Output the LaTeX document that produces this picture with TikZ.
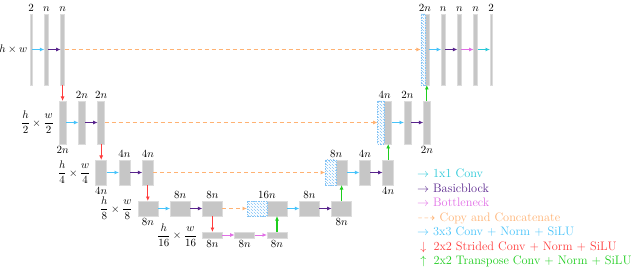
\documentclass[tikz,border=0pt]{standalone}
\usepackage{amsmath,amssymb}
\usepackage{xcolor}
\usepackage{tikz}
\usetikzlibrary{arrows.meta,positioning,patterns}

\definecolor{cone}{RGB}{40,200,215}
\definecolor{cbasic}{RGB}{88,36,140}
\definecolor{cneck}{RGB}{225,110,230}
\definecolor{ccopy}{RGB}{255,178,115}
\definecolor{cthree}{RGB}{70,195,250}
\definecolor{cdown}{RGB}{255,60,60}
\definecolor{cup}{RGB}{30,205,30}
\definecolor{barfill}{RGB}{198,198,198}
\definecolor{barline}{RGB}{220,220,220}
\definecolor{catblue}{RGB}{130,195,245}

\begin{document}
\begin{tikzpicture}[
  x=1pt, y=-1pt, >={Latex[length=4.5pt,width=4pt]},
  font=\fontsize{10.5}{12.5}\selectfont,
  bar/.style={draw=barline, fill=barfill, line width=0.6pt, inner sep=0pt, outer sep=0pt},
  cat/.style={draw=catblue, dash pattern=on 1.5pt off 1pt, line width=0.6pt,
              pattern=north west lines, pattern color=catblue, inner sep=0pt, outer sep=0pt},
  sz0/.style={minimum width=4pt, minimum height=71pt},
  sz1/.style={minimum width=7pt, minimum height=43pt},
  sz2/.style={minimum width=11pt, minimum height=25pt},
  sz3/.style={minimum width=20pt, minimum height=15pt},
  sz4/.style={minimum width=20pt, minimum height=6pt},
  dim/.style={inner sep=2.5pt},
  dimup/.style={label={[dim]above:$#1$}},
  dimdn/.style={label={[dim]below:$#1$}},
  scale lab/.style={inner sep=1pt},
  flow/.style={->, line width=1pt},
  upflow/.style={->, cup, line width=1.3pt},
  copy/.style={->, ccopy, line width=0.9pt, dash pattern=on 4pt off 3pt},
  key/.style={anchor=base west, inner sep=0pt, font=\fontsize{12.3}{14.4}\selectfont}]
  \useasboundingbox (0,0) rectangle (640,267);
  % encoder
  \node[bar, sz0, minimum width=2pt, dimup=2] (l0a) at (31,49.5) {};
  \node[bar, sz0, dimup=n, right=12.3pt of l0a] (l0b) {};
  \node[bar, sz0, dimup=n, right=12.3pt of l0b] (l0c) {};
  \node[scale lab, left=1.5pt of l0a] (s0) {$h\times w$};
  \node[bar, sz1, dimdn=2n, below=16pt of l0c] (l1a) {};
  \node[bar, sz1, dimup=2n, right=12.3pt of l1a] (l1b) {};
  \node[bar, sz1, dimup=2n, right=12.3pt of l1b] (l1c) {};
  \node[scale lab, left=4pt of l1a] (s1) {$\dfrac{h}{2}\times\dfrac{w}{2}$};
  \node[bar, sz2, dimdn=4n, below=16pt of l1c] (l2a) {};
  \node[bar, sz2, dimup=4n, right=12.3pt of l2a] (l2b) {};
  \node[bar, sz2, dimup=4n, right=12.3pt of l2b] (l2c) {};
  \node[scale lab, left=4pt of l2a] (s2) {$\dfrac{h}{4}\times\dfrac{w}{4}$};
  \node[bar, sz3, dimdn=8n, below=16pt of l2c] (l3a) {};
  \node[bar, sz3, dimup=8n, right=12.3pt of l3a] (l3b) {};
  \node[bar, sz3, dimup=8n, right=12.3pt of l3b] (l3c) {};
  \node[scale lab, left=4pt of l3a] (s3) {$\dfrac{h}{8}\times\dfrac{w}{8}$};
  % bottleneck
  \node[bar, sz4, dimdn=8n, below=16pt of l3c] (l4a) {};
  \node[bar, sz4, dimdn=8n, right=12.3pt of l4a] (l4b) {};
  \node[bar, sz4, dimdn=8n, right=12.3pt of l4b] (l4c) {};
  \node[scale lab, left=4pt of l4a] (s4) {$\dfrac{h}{16}\times\dfrac{w}{16}$};
  % decoder
  \node[bar, sz3, above=16pt of l4c] (r3s) {};
  \node[cat, sz3, left=0pt of r3s] (r3h) {};
  \node[dim, above=0pt of r3h.north east] (t3) {$16n$};
  \node[bar, sz3, dimup=8n, right=12.3pt of r3s] (r3b) {};
  \node[bar, sz3, dimdn=8n, right=12.3pt of r3b] (r3c) {};
  \node[bar, sz2, above=16pt of r3c] (r2s) {};
  \node[cat, sz2, left=0pt of r2s] (r2h) {};
  \node[dim, above=0pt of r2h.north east] (t2) {$8n$};
  \node[bar, sz2, dimup=4n, right=12.3pt of r2s] (r2b) {};
  \node[bar, sz2, dimdn=4n, right=12.3pt of r2b] (r2c) {};
  \node[bar, sz1, above=16pt of r2c] (r1s) {};
  \node[cat, sz1, left=0pt of r1s] (r1h) {};
  \node[dim, above=0pt of r1h.north east] (t1) {$4n$};
  \node[bar, sz1, dimup=2n, right=12.3pt of r1s] (r1b) {};
  \node[bar, sz1, dimdn=2n, right=12.3pt of r1b] (r1c) {};
  \node[bar, sz0, above=16pt of r1c] (r0s) {};
  \node[cat, sz0, left=0pt of r0s] (r0h) {};
  \node[dim, above=0pt of r0h.north east] (t0) {$2n$};
  \node[bar, sz0, dimup=n, right=12.3pt of r0s] (r0b) {};
  \node[bar, sz0, dimup=n, right=12.3pt of r0b] (r0c) {};
  \node[bar, sz0, dimup=n, right=12.3pt of r0c] (r0d) {};
  \node[bar, sz0, minimum width=2pt, dimup=2, right=12.3pt of r0d] (r0e) {};
  % arrows
  \draw[flow, cthree] (l0a) -- (l0b); \draw[flow, cbasic] (l0b) -- (l0c);
  \draw[flow, cthree] (l1a) -- (l1b); \draw[flow, cbasic] (l1b) -- (l1c);
  \draw[flow, cthree] (l2a) -- (l2b); \draw[flow, cbasic] (l2b) -- (l2c);
  \draw[flow, cthree] (l3a) -- (l3b); \draw[flow, cbasic] (l3b) -- (l3c);
  \draw[flow, cneck] (l4a) -- (l4b); \draw[flow, cneck] (l4b) -- (l4c);
  \draw[flow, cdown] (l0c) -- (l1a); \draw[flow, cdown] (l1c) -- (l2a);
  \draw[flow, cdown] (l2c) -- (l3a); \draw[flow, cdown] (l3c) -- (l4a);
  \draw[copy] (l0c) -- (r0h); \draw[copy] (l1c) -- (r1h);
  \draw[copy] (l2c) -- (r2h); \draw[copy] (l3c) -- (r3h);
  \draw[upflow] (l4c) -- (r3s); \draw[upflow] (r3c) -- (r2s);
  \draw[upflow] (r2c) -- (r1s); \draw[upflow] (r1c) -- (r0s);
  \draw[flow, cthree] (r3s) -- (r3b); \draw[flow, cbasic] (r3b) -- (r3c);
  \draw[flow, cthree] (r2s) -- (r2b); \draw[flow, cbasic] (r2b) -- (r2c);
  \draw[flow, cthree] (r1s) -- (r1b); \draw[flow, cbasic] (r1b) -- (r1c);
  \draw[flow, cthree] (r0s) -- (r0b); \draw[flow, cbasic] (r0b) -- (r0c);
  \draw[flow, cneck] (r0c) -- (r0d); \draw[flow, cone] (r0d) -- (r0e);
  % legend
  \node[key, text=cone] (k1) at (417,178) {$\rightarrow$ 1x1 Conv};
  \node[key, text=cbasic] (k2) at (417,192.4) {$\rightarrow$ Basicblock};
  \node[key, text=cneck] (k3) at (417,206.8) {$\rightarrow$ Bottleneck};
  \node[key, text=ccopy] (k4) at (417,221.2) {$\dashrightarrow$ Copy and Concatenate};
  \node[key, text=cthree] (k5) at (417,235.6) {$\rightarrow$ 3x3 Conv + Norm + SiLU};
  \node[key, text=cdown] (k6) at (417,250) {\makebox[1em]{$\downarrow$} 2x2 Strided Conv + Norm + SiLU};
  \node[key, text=cup] (k7) at (417,264.4) {\makebox[1em]{$\uparrow$} 2x2 Transpose Conv + Norm + SiLU};
\end{tikzpicture}
\end{document}
